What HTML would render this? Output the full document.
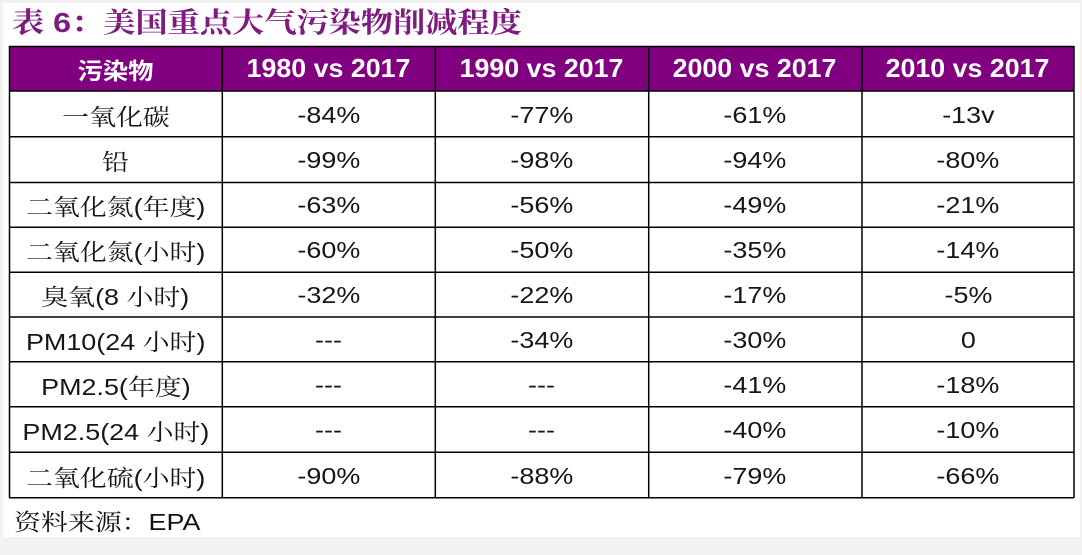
<!DOCTYPE html>
<html>
<head>
<meta charset="utf-8">
<style>
  html,body{margin:0;padding:0;}
  body{width:1082px;height:555px;background:#f2f2f2;position:relative;overflow:hidden;
       font-family:"Liberation Sans","Noto Serif CJK SC",serif;}
  .panel{position:absolute;left:3px;top:3px;width:1077px;height:534px;background:#fff;}
  .title{position:absolute;left:12px;top:9px;height:30px;line-height:28px;font-size:28px;font-weight:bold;
         color:#7e1a80;white-space:nowrap;transform:scaleX(1.15);transform-origin:left center;
         font-family:"Liberation Sans","Noto Serif CJK SC",serif;}
  .cell{position:absolute;display:flex;align-items:center;justify-content:center;white-space:nowrap;}
  .hd{background:#800080;color:#fff;font-weight:bold;font-size:26px;}
  .hd span{display:inline-block;transform:scaleX(1.03);}
  .hdc span{display:inline-block;transform:scaleX(1.1);font-size:23px;font-family:"Liberation Sans","Noto Sans CJK SC",sans-serif;}
  .bd{color:#161616;font-size:23px;padding-top:2px;box-sizing:border-box;}
  .bd span{display:inline-block;transform:scaleX(1.17);}
  .src{position:absolute;left:14px;top:510px;line-height:24px;font-size:23px;color:#111;white-space:nowrap;
       transform:scaleX(1.17);transform-origin:left center;}
  svg{position:absolute;left:0;top:0;}
</style>
</head>
<body>
<div class="panel"></div>
<div class="title">表 6：美国重点大气污染物削减程度</div>

<div class="cell hd hdc" style="left:9px;top:46px;width:213px;height:45px;"><span>污染物</span></div>
<div class="cell hd" style="left:222px;top:46px;width:213px;height:45px;"><span>1980 vs 2017</span></div>
<div class="cell hd" style="left:435px;top:46px;width:213px;height:45px;"><span>1990 vs 2017</span></div>
<div class="cell hd" style="left:648px;top:46px;width:214px;height:45px;"><span>2000 vs 2017</span></div>
<div class="cell hd" style="left:862px;top:46px;width:212px;height:45px;"><span>2010 vs 2017</span></div>

<div class="cell bd" style="left:9px;top:91px;width:213px;height:46px;"><span>一氧化碳</span></div>
<div class="cell bd" style="left:222px;top:91px;width:213px;height:46px;"><span>-84%</span></div>
<div class="cell bd" style="left:435px;top:91px;width:213px;height:46px;"><span>-77%</span></div>
<div class="cell bd" style="left:648px;top:91px;width:214px;height:46px;"><span>-61%</span></div>
<div class="cell bd" style="left:862px;top:91px;width:212px;height:46px;"><span>-13v</span></div>

<div class="cell bd" style="left:9px;top:137px;width:213px;height:45px;"><span>铅</span></div>
<div class="cell bd" style="left:222px;top:137px;width:213px;height:45px;"><span>-99%</span></div>
<div class="cell bd" style="left:435px;top:137px;width:213px;height:45px;"><span>-98%</span></div>
<div class="cell bd" style="left:648px;top:137px;width:214px;height:45px;"><span>-94%</span></div>
<div class="cell bd" style="left:862px;top:137px;width:212px;height:45px;"><span>-80%</span></div>

<div class="cell bd" style="left:9px;top:182px;width:213px;height:45px;"><span>二氧化氮(年度)</span></div>
<div class="cell bd" style="left:222px;top:182px;width:213px;height:45px;"><span>-63%</span></div>
<div class="cell bd" style="left:435px;top:182px;width:213px;height:45px;"><span>-56%</span></div>
<div class="cell bd" style="left:648px;top:182px;width:214px;height:45px;"><span>-49%</span></div>
<div class="cell bd" style="left:862px;top:182px;width:212px;height:45px;"><span>-21%</span></div>

<div class="cell bd" style="left:9px;top:227px;width:213px;height:45px;"><span>二氧化氮(小时)</span></div>
<div class="cell bd" style="left:222px;top:227px;width:213px;height:45px;"><span>-60%</span></div>
<div class="cell bd" style="left:435px;top:227px;width:213px;height:45px;"><span>-50%</span></div>
<div class="cell bd" style="left:648px;top:227px;width:214px;height:45px;"><span>-35%</span></div>
<div class="cell bd" style="left:862px;top:227px;width:212px;height:45px;"><span>-14%</span></div>

<div class="cell bd" style="left:9px;top:272px;width:213px;height:45px;"><span>臭氧(8 小时)</span></div>
<div class="cell bd" style="left:222px;top:272px;width:213px;height:45px;"><span>-32%</span></div>
<div class="cell bd" style="left:435px;top:272px;width:213px;height:45px;"><span>-22%</span></div>
<div class="cell bd" style="left:648px;top:272px;width:214px;height:45px;"><span>-17%</span></div>
<div class="cell bd" style="left:862px;top:272px;width:212px;height:45px;"><span>-5%</span></div>

<div class="cell bd" style="left:9px;top:317px;width:213px;height:45px;"><span>PM10(24 小时)</span></div>
<div class="cell bd" style="left:222px;top:317px;width:213px;height:45px;"><span>---</span></div>
<div class="cell bd" style="left:435px;top:317px;width:213px;height:45px;"><span>-34%</span></div>
<div class="cell bd" style="left:648px;top:317px;width:214px;height:45px;"><span>-30%</span></div>
<div class="cell bd" style="left:862px;top:317px;width:212px;height:45px;"><span>0</span></div>

<div class="cell bd" style="left:9px;top:362px;width:213px;height:45px;"><span>PM2.5(年度)</span></div>
<div class="cell bd" style="left:222px;top:362px;width:213px;height:45px;"><span>---</span></div>
<div class="cell bd" style="left:435px;top:362px;width:213px;height:45px;"><span>---</span></div>
<div class="cell bd" style="left:648px;top:362px;width:214px;height:45px;"><span>-41%</span></div>
<div class="cell bd" style="left:862px;top:362px;width:212px;height:45px;"><span>-18%</span></div>

<div class="cell bd" style="left:9px;top:407px;width:213px;height:45px;"><span>PM2.5(24 小时)</span></div>
<div class="cell bd" style="left:222px;top:407px;width:213px;height:45px;"><span>---</span></div>
<div class="cell bd" style="left:435px;top:407px;width:213px;height:45px;"><span>---</span></div>
<div class="cell bd" style="left:648px;top:407px;width:214px;height:45px;"><span>-40%</span></div>
<div class="cell bd" style="left:862px;top:407px;width:212px;height:45px;"><span>-10%</span></div>

<div class="cell bd" style="left:9px;top:452px;width:213px;height:46px;"><span>二氧化硫(小时)</span></div>
<div class="cell bd" style="left:222px;top:452px;width:213px;height:46px;"><span>-90%</span></div>
<div class="cell bd" style="left:435px;top:452px;width:213px;height:46px;"><span>-88%</span></div>
<div class="cell bd" style="left:648px;top:452px;width:214px;height:46px;"><span>-79%</span></div>
<div class="cell bd" style="left:862px;top:452px;width:212px;height:46px;"><span>-66%</span></div>

<svg width="1082" height="555" viewBox="0 0 1082 555">
  <g stroke="#000" stroke-width="1.5" fill="none">
    <line x1="9" y1="46.5" x2="1074" y2="46.5"/>
    <line x1="9" y1="91" x2="1074" y2="91"/>
    <line x1="9" y1="136.7" x2="1074" y2="136.7"/>
    <line x1="9" y1="182.5" x2="1074" y2="182.5"/>
    <line x1="9" y1="227.3" x2="1074" y2="227.3"/>
    <line x1="9" y1="272.3" x2="1074" y2="272.3"/>
    <line x1="9" y1="317" x2="1074" y2="317"/>
    <line x1="9" y1="361.7" x2="1074" y2="361.7"/>
    <line x1="9" y1="406.7" x2="1074" y2="406.7"/>
    <line x1="9" y1="452.3" x2="1074" y2="452.3"/>
    <line x1="9" y1="497.7" x2="1074" y2="497.7"/>
    <line x1="9.5" y1="46" x2="9.5" y2="498"/>
    <line x1="222.3" y1="46" x2="222.3" y2="498"/>
    <line x1="435.3" y1="46" x2="435.3" y2="498"/>
    <line x1="648.7" y1="46" x2="648.7" y2="498"/>
    <line x1="862" y1="46" x2="862" y2="498"/>
    <line x1="1074" y1="46" x2="1074" y2="498"/>
  </g>
</svg>

<div class="src">资料来源：EPA</div>
</body>
</html>
